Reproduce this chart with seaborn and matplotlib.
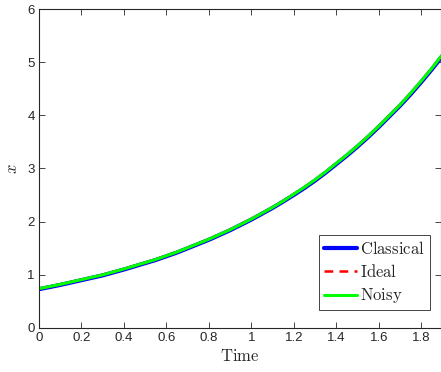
import matplotlib
matplotlib.use("Agg")
import matplotlib.pyplot as plt
import seaborn as sns
import numpy as np
import pandas as pd

time = [0.0, 0.05, 0.1, 0.15, 0.2, 0.25, 0.3, 0.35, 0.4, 0.45, 0.5, 0.55, 0.6, 0.65, 0.7, 0.75, 0.8, 0.85, 0.9, 0.95,
        1.0, 1.05, 1.1, 1.15, 1.2, 1.25, 1.3, 1.35, 1.4, 1.45, 1.5, 1.55, 1.6, 1.65, 1.7, 1.75, 1.8, 1.85, 1.9]
ideal = [0.74, 0.78, 0.82, 0.865, 0.91, 0.955, 1.00, 1.055, 1.11, 1.17, 1.23, 1.29, 1.36, 1.43, 1.51, 1.59, 1.67, 1.76, 1.85, 1.95,
         2.05, 2.16, 2.27, 2.39, 2.52, 2.65, 2.79, 2.94, 3.10, 3.26, 3.43, 3.61, 3.80, 4.00, 4.20, 4.42, 4.65, 4.89, 5.15]
classical = [0.73, 0.77, 0.81, 0.855, 0.90, 0.945, 0.99, 1.045, 1.10, 1.16, 1.22, 1.28, 1.35, 1.42, 1.50, 1.58, 1.66, 1.75, 1.84, 1.94,
             2.04, 2.15, 2.26, 2.38, 2.505, 2.635, 2.775, 2.925, 3.085, 3.245, 3.415, 3.595, 3.785, 3.985, 4.185, 4.40, 4.63, 4.87, 5.125]
noisy = [0.74, 0.78, 0.82, 0.865, 0.91, 0.955, 1.00, 1.055, 1.11, 1.17, 1.23, 1.29, 1.36, 1.43, 1.51, 1.59, 1.67, 1.76, 1.85, 1.95,
         2.05, 2.16, 2.27, 2.39, 2.52, 2.65, 2.79, 2.94, 3.10, 3.26, 3.43, 3.61, 3.80, 4.00, 4.20, 4.42, 4.65, 4.89, 5.15]

df = pd.DataFrame({"Time": time, "Classical": classical, "Ideal": ideal, "Noisy": noisy})

sns.set_style("ticks")
plt.rcParams["font.family"] = ["Liberation Sans", "DejaVu Sans"]
plt.rcParams["mathtext.fontset"] = "cm"

fig = plt.figure(figsize=(4.41, 3.72), dpi=100)
ax = fig.add_axes([0.0884, 0.1183, 0.9116, 0.8575])

sns.lineplot(data=df, x="Time", y="Classical", ax=ax, color="#0000ff", lw=3.0, label=r"$\mathrm{Classical}$")
sns.lineplot(data=df, x="Time", y="Ideal", ax=ax, color="#ff0000", lw=1.8, linestyle=(0, (3.5, 2.5)), label=r"$\mathrm{Ideal}$")
sns.lineplot(data=df, x="Time", y="Noisy", ax=ax, color="#00ff00", lw=2.2, label=r"$\mathrm{Noisy}$")

ax.set_xlim(0, 1.892)
ax.set_ylim(0, 6)
ax.set_xticks([0, 0.2, 0.4, 0.6, 0.8, 1.0, 1.2, 1.4, 1.6, 1.8])
ax.set_xticklabels(["0", "0.2", "0.4", "0.6", "0.8", "1", "1.2", "1.4", "1.6", "1.8"])
ax.set_yticks([0, 1, 2, 3, 4, 5, 6])
ax.tick_params(direction="in", top=True, right=True, length=4, width=0.6, labelsize=9.5, colors="#262626", pad=3)
for s in ax.spines.values():
    s.set_linewidth(0.8)
    s.set_color("#262626")
ax.set_xlabel(r"$\mathrm{Time}$", fontsize=12, labelpad=3)
ax.set_ylabel(r"$x$", fontsize=12, labelpad=5)

leg = ax.legend(loc="lower right", bbox_to_anchor=(0.973, 0.055), fontsize=12, frameon=True, fancybox=False,
                edgecolor="#262626", framealpha=1, handlelength=2.0, handletextpad=0.2, borderpad=0.3, labelspacing=0.38, borderaxespad=0)
leg.get_frame().set_linewidth(0.6)

fig.savefig("out.png", dpi=100)
